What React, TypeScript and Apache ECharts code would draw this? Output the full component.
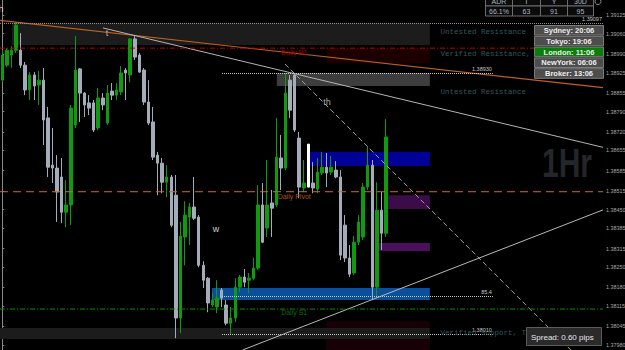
import React, { useEffect, useRef } from "react";
import * as echarts from "echarts";

// ---- Candles (1H bars), prices ----
const OPEN = [1.38899,1.38951,1.38986,1.39003,1.39003,1.38951,1.38865,1.38917,1.38882,1.38899,1.38768,1.38604,1.38594,1.38563,1.38441,1.38466,1.38743,1.38938,1.38854,1.3882,1.3882,1.38733,1.38837,1.3875,1.38861,1.38847,1.38858,1.38934,1.38917,1.39042,1.38986,1.38934,1.38823,1.38754,1.38639,1.38611,1.38545,1.38563,1.385,1.38074,1.38355,1.38424,1.38459,1.38424,1.38257,1.38212,1.38119,1.38112,1.38171,1.38119,1.38056,1.38074,1.38181,1.38216,1.38205,1.38212,1.38247,1.38466,1.38386,1.38473,1.38466,1.38629,1.38594,1.38899,1.38917,1.38698,1.38525,1.38677,1.38542,1.38521,1.38577,1.38597,1.3858,1.38587,1.38563,1.38396,1.38282,1.3823,1.38337,1.38355,1.38528,1.38604,1.38181,1.38448,1.38368];
const CLOSE = [1.38986,1.39003,1.39003,1.3909,1.38951,1.38865,1.38917,1.38879,1.38899,1.38761,1.38597,1.38594,1.38511,1.38441,1.38466,1.38802,1.38934,1.38854,1.38813,1.38802,1.38726,1.38837,1.38813,1.38854,1.38847,1.38865,1.38924,1.38924,1.39042,1.38979,1.38927,1.38823,1.3875,1.38632,1.38611,1.38545,1.38563,1.38396,1.38074,1.38358,1.38431,1.38459,1.3842,1.38257,1.38205,1.38126,1.38136,1.38143,1.38143,1.38056,1.38074,1.38181,1.38216,1.38198,1.38212,1.38247,1.38466,1.38337,1.38466,1.38455,1.38632,1.38594,1.38854,1.38795,1.38726,1.38528,1.38542,1.38528,1.38525,1.3858,1.38597,1.38577,1.38597,1.38563,1.38292,1.38282,1.38226,1.38337,1.38407,1.38528,1.38604,1.38181,1.38448,1.38368,1.38702];
const LOW = [1.38892,1.38944,1.38941,1.38993,1.38941,1.38847,1.3883,1.3883,1.38813,1.38674,1.38563,1.38542,1.38407,1.38403,1.38389,1.38396,1.38733,1.38754,1.38771,1.38778,1.38719,1.38726,1.38795,1.38743,1.3883,1.3883,1.38847,1.3883,1.38892,1.38969,1.38924,1.38813,1.38743,1.38622,1.385,1.38507,1.38493,1.38389,1.38004,1.38022,1.38257,1.38327,1.38414,1.3825,1.38178,1.38094,1.38112,1.38091,1.38112,1.38049,1.38015,1.3806,1.38164,1.38181,1.3816,1.38205,1.3824,1.38334,1.38355,1.38355,1.38459,1.38518,1.38587,1.38768,1.38719,1.3849,1.38511,1.38528,1.38507,1.38507,1.3857,1.38528,1.3857,1.38559,1.38275,1.38268,1.38216,1.38223,1.38327,1.38344,1.38518,1.38136,1.38143,1.3831,1.38355];
const HIGH = [1.39003,1.3901,1.39017,1.39101,1.39062,1.38962,1.38927,1.38927,1.38931,1.38941,1.38806,1.38733,1.38639,1.38629,1.38552,1.38813,1.39052,1.38941,1.38858,1.38847,1.3883,1.38872,1.38854,1.38882,1.38889,1.38889,1.38948,1.38941,1.39045,1.39052,1.38993,1.38941,1.38899,1.38806,1.3865,1.38629,1.38604,1.3857,1.3857,1.38407,1.38479,1.38473,1.38563,1.38431,1.38271,1.38216,1.3816,1.38205,1.38178,1.38136,1.38112,1.38212,1.38223,1.38244,1.3823,1.38282,1.38535,1.38542,1.38622,1.38518,1.38768,1.38709,1.38924,1.38917,1.38924,1.38719,1.38622,1.38677,1.38615,1.38629,1.3865,1.38646,1.38636,1.38618,1.38587,1.38431,1.38327,1.38358,1.38431,1.38542,1.38667,1.38622,1.38545,1.38511,1.38764];
const WHITE_BAR = 67;
const SLOTS = 132;

// ---- Price axis ----
const Y_MIN = 1.37963;
const Y_MAX = 1.39177;
const Y_TICKS = [1.39125,1.3906,1.3899,1.38925,1.38855,1.3879,1.3872,1.38655,1.38585,1.38515,1.3845,1.38385,1.38315,1.3825,1.3818,1.38115,1.38045,1.3798];

// ---- Supply / demand zones (bar index, price) ----
const ZONE_FROM = [2.1, 71.1, 60.1, 67.1, 83.8, 82.3, 45.9, 70.9, -0.5];
const ZONE_TO = 93.6;
const ZONE_HIGH = [1.39097, 1.3901, 1.38924, 1.3865, 1.385, 1.38334, 1.38178, 1.38063, 1.38039];
const ZONE_LOW = [1.39021, 1.38958, 1.38879, 1.38601, 1.38452, 1.38306, 1.38136, 1.37963, 1.38001];

// ---- Dotted levels ----
const LEVEL_PRICE = [1.39097, 1.38924, 1.3815, 1.38018];
const LEVEL_FROM = [-0.5, 48.1, 48.1, 48.1];
const LEVEL_TO = [131.5, 107.4, 107.4, 107.4];
const LEVEL_TEXT = ["1.39097", "1.38930", "85.4", "1.38010"];

// ---- Daily pivots ----
const PIVOT_PRICE = [1.3901, 1.38512, 1.38105];
const PIVOT_NAME = ["Daily R1", "Daily Pivot", "Daily S1"];
const PIVOT_TAG = ["1.39000", "1.38510", "1.38100"];
const PIVOT_NAME_AT = [63.9, 63.9, 63.9];
const PIVOT_NAME_PRICE = [1.38995, 1.38497, 1.38093];
const BID_PRICE = 1.387;
const BID_TAG = "1.38700";

// ---- Trend lines: [barIndex, price] ----
const TREND_ORANGE = [[-0.5, 1.39106], [131.5, 1.38873]];
const TREND_GREY = [[22.05, 1.3908], [131.5, 1.38666]];
const TREND_DASH = [[61.9, 1.38955], [128, 1.37907]];
const TREND_RISE = [[52.6, 1.37963], [131.5, 1.38449]];

// ---- Annotations ----
const WAVE_TEXT = ["h", "t", "th", "w"];
const WAVE_AT = [[-0.3, 1.39146], [22.9, 1.39062], [71.1, 1.38823], [46.8, 1.38382]];
const ZONE_TEXT = ["Untested Resistance", "Verified Resistance, Test Count=1", "Untested Resistance", "Verified Support, Test Count=2"];
const ZONE_TEXT_AT = [[95.8, 1.39066], [95.8, 1.38988], [95.8, 1.38858], [95.8, 1.38023]];

const SESSIONS = ["Sydney: 20:06", "Tokyo: 19:06", "London: 11:06", "NewYork: 06:06", "Broker: 13:06"];
const ADR_HEAD = ["ADR", "T", "Y", "30D"];
const ADR_VALS = ["66.1%", "63", "91", "95"];
const SPREAD = "Spread: 0.60 pips";
const TIMEFRAME = "1Hr";

export default function App() {
  const ref = useRef<HTMLDivElement>(null);
  useEffect(() => {
    if (!ref.current) return;
    const chart = echarts.init(ref.current, undefined, { renderer: "svg" });

    const cats = Array.from({ length: SLOTS }, (_, i) => String(i));
    const xL = -0.5;
    const xR = SLOTS - 0.5;
    const candles = OPEN.map((o, i) => {
      const v = [o, CLOSE[i], LOW[i], HIGH[i]];
      if (i === WHITE_BAR) {
        return { value: v, itemStyle: { color: "#ffffff", color0: "#ffffff", borderColor: "#ffffff", borderColor0: "#ffffff" } };
      }
      return v;
    });

    const zoneColors = ["#1c1c1c", "#1c0000", "#3d3d3d", "#000096", "#3c0c4a", "#4b0f5e", "#0b4e9b", "#170006", "#1c1c1c"];
    const levelColors = ["#8e8e8e", "#c8c8c8", "#c8c8c8", "#c8c8c8"];
    const pivotColors = ["#c00000", "#d2691e", "#009000"];
    const pivotTypes: any[] = [[5, 2, 1, 2], [8, 5], [5, 2, 1, 2]];
    const pivotTextColors = ["#a00000", "#a8561c", "#0b6a0b"];
    const tagBg = ["#b40000", "#c8641e", "#009c00"];
    const waveColors = ["#d0d0d0", "#b4b4b4", "#a8a8a8", "#d0d0d0"];

    const monoFont = "Liberation Mono";
    const sansFont = "Liberation Sans";

    const lineSeries = (data: number[][], color: string, type: any, width: number, z = 4) => ({
      type: "line",
      xAxisIndex: 1,
      yAxisIndex: 0,
      data,
      showSymbol: false,
      symbol: "none",
      silent: true,
      z,
      color,
      lineStyle: { color, width, type },
    });

    const tagLabel = (text: string, bg: string, color: string) => ({
      show: true,
      position: "end",
      distance: 1,
      formatter: text,
      backgroundColor: bg,
      color,
      fontSize: 5.4,
      fontFamily: sansFont,
      padding: [1, 2, 1, 2],
    });
    const hiddenLine = { color: "rgba(0,0,0,0)", width: 0, opacity: 0, type: "solid" };

    const graphics: any[] = [];
    graphics.push({
      type: "text",
      x: 567,
      y: 163,
      scaleX: 0.75,
      silent: true,
      style: { text: TIMEFRAME, font: `bold 40px "${sansFont}"`, fill: "#24272a", align: "center", verticalAlign: "middle" },
    });
    SESSIONS.forEach((s, k) => {
      const top = 25 + 10.8 * k;
      graphics.push({
        type: "rect",
        shape: { x: 534.5, y: top + 0.5, width: 69, height: 9.6 },
        style: { fill: k === 2 ? "#0b7d0b" : "#4d4d4d", stroke: "#7c7c7c", lineWidth: 1 },
        z: 10,
      });
      graphics.push({
        type: "text",
        x: 569,
        y: top + 5.5,
        z: 11,
        style: { text: s, fill: "#ededed", font: `bold 7.5px "${sansFont}"`, align: "center", verticalAlign: "middle" },
      });
    });
    const colX = [485, 512, 540, 567, 593];
    const rowY = [-4, 5.5, 15.5];
    [ADR_HEAD, ADR_VALS].forEach((row, r) => {
      row.forEach((t, c) => {
        graphics.push({
          type: "rect",
          shape: { x: colX[c] + 0.5, y: rowY[r] + 0.5, width: colX[c + 1] - colX[c], height: rowY[r + 1] - rowY[r] },
          style: { fill: "#0b0b0b", stroke: "#6c6c6c", lineWidth: 1 },
          z: 10,
        });
        graphics.push({
          type: "text",
          x: (colX[c] + colX[c + 1]) / 2 + 0.5,
          y: (rowY[r] + rowY[r + 1]) / 2 + 0.5,
          z: 11,
          style: { text: t, fill: "#a8b5c6", font: `7px "${sansFont}"`, align: "center", verticalAlign: "middle" },
        });
      });
    });
    graphics.push({ type: "circle", shape: { cx: 598, cy: 1.5, r: 3 }, style: { fill: "none", stroke: "#8a8a8a", lineWidth: 1 }, z: 10 });
    graphics.push({
      type: "rect",
      shape: { x: 526.5, y: 327.5, width: 75, height: 18 },
      style: { fill: "#2a2a2a", stroke: "#5c5c5c", lineWidth: 1 },
      z: 10,
    });
    graphics.push({
      type: "text",
      x: 531,
      y: 337,
      z: 11,
      style: { text: SPREAD, fill: "#e6e6e6", font: `8px "${sansFont}"`, align: "left", verticalAlign: "middle" },
    });

    const option: any = {
      animation: false,
      backgroundColor: "#000000",
      grid: { left: 0, right: 22, top: 0, bottom: 0, containLabel: false, outerBoundsMode: "none" },
      xAxis: [
        { type: "category", data: cats, boundaryGap: true, show: false },
        { type: "value", min: xL, max: xR, show: false },
      ],
      yAxis: {
        type: "value",
        position: "right",
        min: Y_MIN,
        max: Y_MAX,
        scale: true,
        axisLine: { show: true, lineStyle: { color: "#8a8a8a", width: 1 } },
        axisTick: { show: true, customValues: Y_TICKS, length: 2, lineStyle: { color: "#8a8a8a" } },
        axisLabel: {
          show: true,
          customValues: Y_TICKS,
          formatter: (v: number) => v.toFixed(5),
          color: "#a9a9a9",
          fontSize: 5.4,
          fontFamily: sansFont,
          margin: 3,
        },
        splitLine: { show: false },
      },
      graphic: graphics,
      series: [
        {
          type: "line",
          name: "zones",
          xAxisIndex: 1,
          yAxisIndex: 0,
          data: [],
          silent: true,
          z: 1,
          markArea: {
            silent: true,
            label: { show: false },
            data: ZONE_FROM.map((x0, k) => [
              { coord: [x0, ZONE_HIGH[k]], itemStyle: { color: zoneColors[k] } },
              { coord: [ZONE_TO, ZONE_LOW[k]] },
            ]),
          },
          markLine: {
            silent: true,
            symbol: ["none", "none"],
            data: LEVEL_PRICE.map((p, k) => [
              {
                coord: [LEVEL_FROM[k], p],
                lineStyle: { color: levelColors[k], type: "dotted", width: 1 },
                label: {
                  show: true,
                  position: "insideEndTop",
                  formatter: LEVEL_TEXT[k],
                  color: "#c8c8c8",
                  fontSize: 5.5,
                  fontFamily: sansFont,
                  distance: 1,
                },
              },
              { coord: [LEVEL_TO[k], p] },
            ]),
          },
          markPoint: {
            silent: true,
            symbol: "rect",
            symbolSize: 1,
            itemStyle: { color: "rgba(0,0,0,0)" },
            data: ZONE_TEXT.map((t, k) => ({
              coord: ZONE_TEXT_AT[k],
              label: { show: true, position: "right", distance: 0, formatter: t, color: "#2e5a5d", fontSize: 7.5, fontFamily: monoFont },
            })),
          },
        },
        {
          type: "candlestick",
          name: "EURUSD H1",
          xAxisIndex: 0,
          yAxisIndex: 0,
          z: 2,
          barWidth: 3,
          silent: true,
          data: candles,
          itemStyle: {
            color: "#0f9a0f",
            color0: "#a3adba",
            borderColor: "#0f9a0f",
            borderColor0: "#a3adba",
            borderWidth: 1,
          },
        },
        lineSeries(TREND_ORANGE, "#c0601c", "solid", 1.2),
        lineSeries(TREND_GREY, "#b4b4b4", "solid", 1),
        lineSeries(TREND_DASH, "#a0a0a0", [5, 3], 1),
        lineSeries(TREND_RISE, "#b8b8b8", "solid", 1),
        ...PIVOT_PRICE.map((p, k) =>
          lineSeries([[xL, p], [xR, p]], pivotColors[k], pivotTypes[k], 1, 5)
        ),
        {
          type: "line",
          name: "labels",
          xAxisIndex: 1,
          yAxisIndex: 0,
          data: [],
          silent: true,
          z: 6,
          markLine: {
            silent: true,
            symbol: ["none", "none"],
            lineStyle: hiddenLine,
            data: [
              ...PIVOT_PRICE.map((p, k) => [
                { coord: [xL, p], lineStyle: hiddenLine, label: tagLabel(PIVOT_TAG[k], tagBg[k], "#1a0a00") },
                { coord: [xR, p] },
              ]),
              [
                { coord: [xL, BID_PRICE], lineStyle: hiddenLine, label: tagLabel(BID_TAG, "#c4c4c4", "#202020") },
                { coord: [xR, BID_PRICE] },
              ],
            ],
          },
          markPoint: {
            silent: true,
            symbol: "rect",
            symbolSize: 1,
            itemStyle: { color: "rgba(0,0,0,0)" },
            data: [
              ...PIVOT_NAME.map((t, k) => ({
                coord: [PIVOT_NAME_AT[k], PIVOT_NAME_PRICE[k]],
                label: { show: true, position: "inside", formatter: t, color: pivotTextColors[k], fontSize: 7, fontFamily: sansFont },
              })),
              ...WAVE_TEXT.map((t, k) => ({
                coord: WAVE_AT[k],
                label: { show: true, position: "inside", formatter: t, color: waveColors[k], fontSize: 9, fontFamily: sansFont },
              })),
            ],
          },
        },
      ],
    };

    chart.setOption(option);
    return () => chart.dispose();
  }, []);
  return (
    <div
      ref={ref}
      style={{ position: "fixed", left: 0, top: 0, width: 625, height: 350, background: "#000" }}
    />
  );
}
